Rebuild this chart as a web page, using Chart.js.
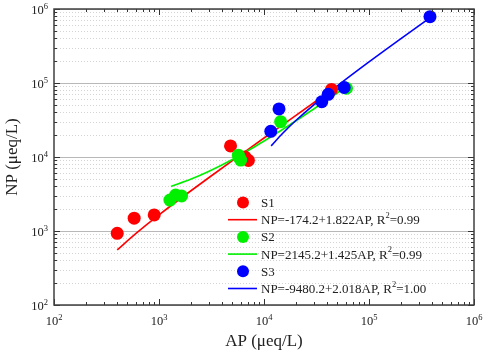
<!DOCTYPE html>
<html>
<head>
<meta charset="utf-8">
<script src="https://cdn.jsdelivr.net/npm/chart.js@4.4.0/dist/chart.umd.min.js"></script>
<style>
  html, body { margin: 0; padding: 0; background: #fff; }
  #wrap { width: 484px; height: 353px; }
</style>
</head>
<body>
<div id="wrap"><canvas id="apnp" width="484" height="353"></canvas></div>
<script>
// ---- values (AP, NP in µeq/L) ----
const s1AP = [400, 580, 900, 4800, 6600, 7100, 44000];
const s1NP = [930, 1490, 1650, 14100, 10000, 9000, 82000];
const s2AP = [1270, 1440, 1640, 5700, 5800, 6000, 14400, 61000];
const s2NP = [2620, 3060, 2970, 10600, 9900, 9100, 30000, 85000];
const s3AP = [11600, 13900, 35500, 40900, 58000, 381000];
const s3NP = [22200, 44600, 55800, 70300, 87000, 787000];

// fitted lines, sampled along the drawn curves
const fit1AP = [400, 600, 1000, 2000, 5000, 10000, 20000, 45000];
const fit1NP = [555, 920, 1650, 3470, 8940, 18050, 36270, 81800];
const fit2AP = [1300, 2000, 3000, 5000, 8000, 15000, 30000, 60000];
const fit2NP = [4000, 5000, 6420, 9270, 13550, 23520, 44900, 87650];
const fit3AP = [11700, 15000, 20000, 30000, 50000, 100000, 200000, 380000];
const fit3NP = [14130, 20790, 30880, 51060, 91420, 192320, 394120, 757360];

const decades = [2, 3, 4, 5, 6];
// legend text split as [before superscript, superscript, after]
const legendLabels = [['S1'], ['NP=-174.2+1.822AP, R', '2', '=0.99'], ['S2'], ['NP=2145.2+1.425AP, R', '2', '=0.99'],
  ['S3'], ['NP=-9480.2+2.018AP, R', '2', '=1.00']];

const RED = '#ff0000', GREEN = '#00f000', BLUE = '#0000ff';
const SERIF = '"Liberation Serif", "Times New Roman", serif';

const pairs = (xs, ys) => xs.map((x, i) => ({ x: x, y: ys[i] }));

function pts(label, xs, ys, color, order) {
  return { label, data: pairs(xs, ys), backgroundColor: color, borderColor: color,
    pointRadius: 6.5, pointBorderWidth: 0, showLine: false, order };
}
function fit(label, xs, ys, color, order) {
  return { label, data: pairs(xs, ys), borderColor: color, backgroundColor: color,
    borderWidth: 1.6, pointRadius: 0, showLine: true, fill: false, tension: 0.3, order };
}

// grid, frame, ticks, labels and the in-plot legend
const framePlugin = {
  id: 'frame',
  beforeDatasetsDraw(chart) {
    const { ctx, chartArea: a, scales } = chart;
    const y = scales.y;
    ctx.save();
    ctx.lineWidth = 1;
    for (let d = 2; d < 6; d++) {
      for (let m = 2; m <= 9; m++) {
        const py = Math.round(y.getPixelForValue(m * Math.pow(10, d))) + 0.5;
        ctx.strokeStyle = '#d4d4d4';
        ctx.setLineDash([1, 2]);
        ctx.beginPath(); ctx.moveTo(a.left, py); ctx.lineTo(a.right, py); ctx.stroke();
      }
    }
    ctx.setLineDash([]);
    ctx.strokeStyle = '#b8b8b8';
    decades.forEach(d => {
      const py = Math.round(y.getPixelForValue(Math.pow(10, d))) + 0.5;
      ctx.beginPath(); ctx.moveTo(a.left, py); ctx.lineTo(a.right, py); ctx.stroke();
    });
    ctx.restore();
  },
  afterDraw(chart) {
    const { ctx, chartArea: a, scales } = chart;
    const x = scales.x, y = scales.y;
    ctx.save();
    // ticks pointing inward on all four sides
    ctx.strokeStyle = '#333';
    ctx.lineWidth = 1;
    for (let d = 2; d <= 6; d++) {
      for (let m = 1; m <= 9; m++) {
        if (d === 6 && m > 1) break;
        const len = m === 1 ? 6 : 3;
        const v = m * Math.pow(10, d);
        const px = Math.round(x.getPixelForValue(v)) + 0.5;
        const py = Math.round(y.getPixelForValue(v)) + 0.5;
        ctx.beginPath();
        ctx.moveTo(px, a.bottom); ctx.lineTo(px, a.bottom - len);
        ctx.moveTo(px, a.top); ctx.lineTo(px, a.top + len);
        ctx.moveTo(a.left, py); ctx.lineTo(a.left + len, py);
        ctx.moveTo(a.right, py); ctx.lineTo(a.right - len, py);
        ctx.stroke();
      }
    }
    ctx.lineWidth = 1.5;
    ctx.strokeStyle = '#404040';
    ctx.strokeRect(a.left, a.top, a.right - a.left, a.bottom - a.top);

    // decade labels 10^n
    ctx.fillStyle = '#222';
    ctx.textBaseline = 'alphabetic';
    const base = '12.5px ' + SERIF, sup = '8.5px ' + SERIF;
    function pow10(n, cx, by, align) {
      ctx.font = base; const w1 = ctx.measureText('10').width;
      ctx.font = sup; const w2 = ctx.measureText(String(n)).width;
      const left = align === 'center' ? cx - (w1 + w2) / 2 : cx - (w1 + w2);
      ctx.textAlign = 'left';
      ctx.font = base; ctx.fillText('10', left, by);
      ctx.font = sup; ctx.fillText(String(n), left + w1, by - 5);
    }
    decades.forEach(d => {
      pow10(d, x.getPixelForValue(Math.pow(10, d)), 325, 'center');
      pow10(d, 48, y.getPixelForValue(Math.pow(10, d)) + 5, 'right');
    });

    // axis titles
    ctx.font = '17px ' + SERIF;
    ctx.textAlign = 'center';
    ctx.textBaseline = 'middle';
    ctx.fillText('AP (μeq/L)', (a.left + a.right) / 2, 342);
    ctx.translate(13, (a.top + a.bottom) / 2);
    ctx.rotate(-Math.PI / 2);
    ctx.fillText('NP (μeq/L)', 0, 0);
    ctx.restore();

    // legend inside the plot
    ctx.save();
    ctx.textAlign = 'left';
    ctx.textBaseline = 'middle';
    chart.data.datasets.forEach((ds, i) => {
      const ry = 202.5 + i * 17.2;
      if (ds.showLine) {
        ctx.strokeStyle = ds.borderColor; ctx.lineWidth = 1.6;
        ctx.beginPath(); ctx.moveTo(228, ry); ctx.lineTo(257, ry); ctx.stroke();
      } else {
        ctx.fillStyle = ds.backgroundColor;
        ctx.beginPath(); ctx.arc(243, ry, 6, 0, Math.PI * 2); ctx.fill();
      }
      ctx.fillStyle = '#222';
      const parts = legendLabels[i];
      let tx = 261;
      ctx.font = '13px ' + SERIF;
      ctx.fillText(parts[0], tx, ry + 1);
      if (parts.length > 1) {
        tx += ctx.measureText(parts[0]).width;
        ctx.font = '8.5px ' + SERIF;
        ctx.fillText(parts[1], tx, ry - 4);
        tx += ctx.measureText(parts[1]).width;
        ctx.font = '13px ' + SERIF;
        ctx.fillText(parts[2], tx, ry + 1);
      }
    });
    ctx.restore();
  }
};

new Chart(document.getElementById('apnp'), {
  type: 'scatter',
  data: {
    datasets: [
      pts('S1', s1AP, s1NP, RED, 2),
      fit('fit S1', fit1AP, fit1NP, RED, 5),
      pts('S2', s2AP, s2NP, GREEN, 1),
      fit('fit S2', fit2AP, fit2NP, GREEN, 4),
      pts('S3', s3AP, s3NP, BLUE, 0),
      fit('fit S3', fit3AP, fit3NP, BLUE, 3)
    ]
  },
  options: {
    responsive: false,
    animation: false,
    layout: { padding: { left: 54, right: 10, top: 9, bottom: 48 } },
    plugins: { legend: { display: false }, tooltip: { enabled: false } },
    scales: {
      x: { type: 'logarithmic', min: 100, max: 1e6, display: false },
      y: { type: 'logarithmic', min: 100, max: 1e6, display: false }
    }
  },
  plugins: [framePlugin]
});
</script>
</body>
</html>
